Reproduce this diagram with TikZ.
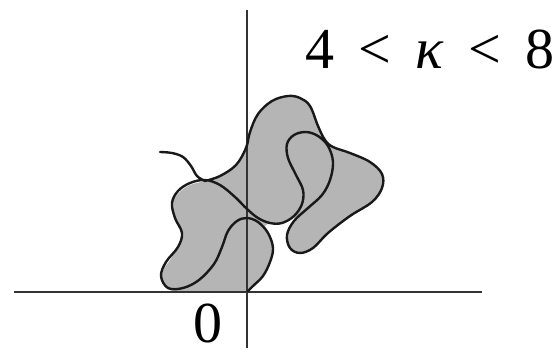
\documentclass[tikz,border=0pt]{standalone}
\usepackage{fontspec}
\setmainfont{Liberation Serif}
\newfontfamily\lblfont{Liberation Serif}
\begin{document}
\begin{tikzpicture}[x=1pt,y=-1pt,
  axis/.style={line width=2.2pt,draw=black!80},
  hullfill/.style={fill=black!29,draw=none},
  trace/.style={line width=2.4pt,draw=black!90,line join=round,line cap=round},
  lbl/.style={font=\lblfont\fontsize{58}{58}\selectfont,inner sep=0pt}]
\useasboundingbox (0,0) rectangle (558,354);
% hull fill
\fill[hullfill] plot[smooth,tension=0.6] coordinates {
 (248,291) (253,286) (263,276) (270,262) (273,248) (268,234) (265,226)
 (270,224) (282,223) (294,217) (293,223) (287,234) (290,248) (300,253)
 (313,248) (328,233) (350,216) (372,202) (382,188) (382,174) (370,162)
 (350,153) (333,147) (325,140) (318,126) (310,106) (300,98) (288,96)
 (272,101) (258,114) (250,132) (246,148) (236,165) (220,176) (205,181)
 (186,187) (172,203) (175,220) (182,237) (172,257) (162,273) (165,287)
 (175,291)} -- cycle;
% axes
\draw[axis] (14,292) coordinate (xl) -- (482,292) coordinate (xr);
\draw[axis] (247,10) coordinate (yt) -- (247,348) coordinate (yb);
% trace
\draw[trace] plot[smooth,tension=0.6] coordinates {
 (248,291) (253,286) (263,276) (270,262) (273,248) (268,233) (258,222)
 (247,218) (237,221) (228,231) (222,247) (214,264) (199,280) (183,288)
 (168,288) (161,276) (166,262) (178,247) (182,233) (175,218) (172,203)
 (178,191) (190,183) (205,180) (220,185) (235,197) (247,209) (258,218)
 (270,223) (282,223) (294,216) (302,204) (303,190) (296,175) (288,158)
 (287,144) (294,135) (306,132) (318,136) (328,146) (333,162) (330,180)
 (322,195) (308,208) (294,221) (287,235) (290,248) (300,253) (313,248)
 (328,233) (350,216) (372,202) (382,188) (382,174) (370,162) (350,153)
 (333,147) (325,140) (318,126) (310,106) (300,98) (288,96) (272,101)
 (258,114) (250,132) (246,148) (236,165) (220,176) (205,181)};
\draw[trace] plot[smooth,tension=0.6] coordinates {
 (205,181) (197,176) (191,166) (183,157) (172,153) (160,152)};
% labels
\node[lbl] (zero) at (208,323) {0};
\node[lbl] (kappa) at (430,49) {4\hspace{0.42em}<\hspace{0.42em}\textit{κ}\hspace{0.42em}<\hspace{0.42em}8};
\end{tikzpicture}
\end{document}
